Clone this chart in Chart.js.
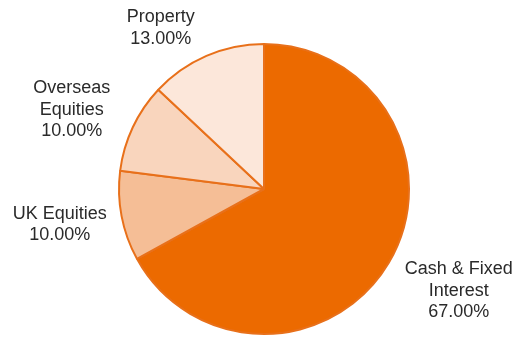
<!DOCTYPE html>
<html>
<head>
<meta charset="utf-8">
<script src="https://cdn.jsdelivr.net/npm/chart.js@4/dist/chart.umd.min.js"></script>
<style>
html,body{margin:0;padding:0;background:#fff;}
canvas{display:block;}
</style>
</head>
<body>
<canvas id="c" width="518" height="337"></canvas>
<script>
const categories = ["Cash & Fixed Interest", "UK Equities", "Overseas Equities", "Property"];
const labelLines = [["Cash & Fixed", "Interest"], ["UK Equities"], ["Overseas", "Equities"], ["Property"]];
const values = [67, 10, 10, 13];
const sliceColors = ["#EC6A00", "#F5BE96", "#F9D5BD", "#FCE7DA"];

const labelNudge = [[8, 2], [2, 1], [-10, 4], [-25, 9]];

const labelPlugin = {
  id: 'outsideLabels',
  afterDatasetsDraw(chart) {
    const ctx = chart.ctx;
    const meta = chart.getDatasetMeta(0);
    const total = values.reduce((a, b) => a + b, 0);
    ctx.save();
    ctx.font = '18px "Liberation Sans", Arial, sans-serif';
    ctx.fillStyle = '#2a2a2a';
    ctx.textAlign = 'center';
    ctx.textBaseline = 'middle';
    const lh = 21.8;
    meta.data.forEach((arc, i) => {
      const p = arc.getProps(['x', 'y', 'startAngle', 'endAngle', 'outerRadius'], true);
      const mid = (p.startAngle + p.endAngle) / 2;
      const dx = Math.cos(mid), dy = Math.sin(mid);
      const lines = labelLines[i].concat([(values[i] / total * 100).toFixed(2) + '%']);
      let w = 0;
      lines.forEach(l => { w = Math.max(w, ctx.measureText(l).width); });
      const h = lines.length * lh;
      const r = p.outerRadius + 18;
      const cx = p.x + dx * r + dx * w / 2 + labelNudge[i][0];
      const cy = p.y + dy * r + dy * h / 2 + labelNudge[i][1];
      lines.forEach((l, k) => {
        ctx.fillText(l, cx, cy - h / 2 + lh * (k + 0.5));
      });
    });
    ctx.restore();
  }
};

new Chart(document.getElementById('c'), {
  type: 'pie',
  data: {
    labels: categories,
    datasets: [{
      data: values,
      backgroundColor: sliceColors,
      borderColor: '#E8701A',
      borderWidth: 2
    }]
  },
  options: {
    responsive: false,
    animation: false,
    devicePixelRatio: 1,
    layout: { padding: { left: 118, right: 108, top: 43, bottom: 2 } },
    plugins: { legend: { display: false }, tooltip: { enabled: false } }
  },
  plugins: [labelPlugin]
});
</script>
</body>
</html>
